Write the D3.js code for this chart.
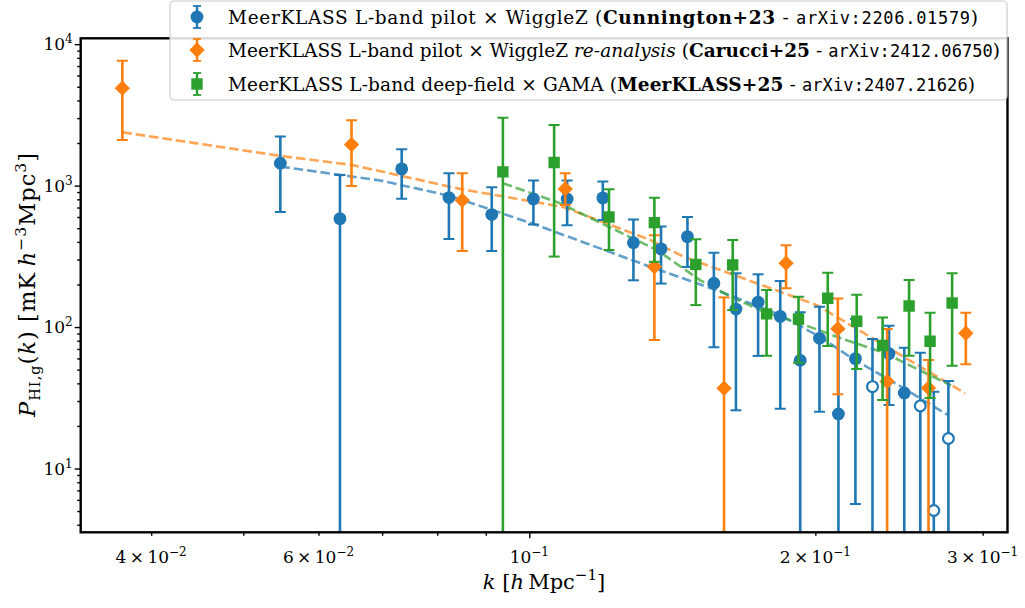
<!DOCTYPE html>
<html>
<head>
<meta charset="utf-8">
<script src="https://cdn.jsdelivr.net/npm/d3@7"></script>
<style>
  body { margin: 0; background: #fff; }
  text { font-family: "DejaVu Serif", serif; fill: #000; }
  .mono { font-family: "DejaVu Sans Mono", monospace; }
</style>
</head>
<body>
<div id="chart"></div>
<script>
// MeerKLASS L-band pilot x WiggleZ (Cunnington+23)
var kBlue  = [0.0547,0.0632,0.0734,0.0823,0.0913,0.1010,0.1096,0.1195,0.1287,0.1376,0.1467,0.1564,0.1650,0.1741,0.1837,0.1928,0.2020,0.2115,0.2204,0.2297,0.2391,0.2481,0.2579,0.2665,0.2761];
var pBlue  = [1440,584,1313,823,624,805,805,819,395,357,436,204,134,150,119,58.2,83.3,24.3,59.8,37.9,64.9,34.2,27.7,5.05,16.3];
var hiBlue = [2221,1190,1809,1224,974,1085,1085,1071,575,513,600,335,240,236,212,127,139,95.4,114,82.4,102,71.5,65.9,34.9,41.6];
var loBlue = [652,0,809,420,345,530,525,572,214,203,266,72.0,25.8,62.5,26.5,0,25.2,0,5.61,0,28.1,0,0,0,0];
var openBlue = [0,0,0,0,0,0,0,0,0,0,0,0,0,0,0,0,0,0,0,1,0,0,1,1,1];

// re-analysis (Carucci+25)
var kOrange  = [0.0373,0.0650,0.0850,0.1091,0.1354,0.1603,0.1863,0.2112,0.2380,0.2631,0.2880];
var pOrange  = [4884,1950,788,948,267,36.9,283,97.4,41.2,37.1,90.4];
var hiOrange = [7618,2901,1224,1224,446,162,379,159,96.9,58.5,126];
var loOrange = [2105,995,345,730,81.0,0,188,33.5,0,0,54.6];

// deep-field x GAMA (MeerKLASS+25)
var kGreen  = [0.0938,0.1062,0.1213,0.1354,0.1497,0.1637,0.1777,0.1920,0.2061,0.2211,0.2354,0.2510,0.2641,0.2786];
var pGreen  = [1250,1455,600,547,277,275,124,114,160,110,74.1,141,79.4,148];
var hiGreen = [3012,2687,943,819,418,413,183,164,242,169,117,215,126,240];
var loGreen = [0,315,351,289,143,132,62.8,56.0,73.5,50.5,30.5,62.8,31.5,53.3];

// model curves (dashed)
var kModelBlue = [0.0547,0.0697,0.0825,0.1010,0.1340,0.1561,0.1835,0.2023,0.2176,0.2474,0.2757];
var pModelBlue = [1363,1087,846,536,267,186,122,85.1,61.4,37.1,23.9];
var kModelOrange = [0.0373,0.0547,0.0650,0.0845,0.1085,0.1340,0.1452,0.2007,0.2875];
var pModelOrange = [2386,1622,1401,948,707,413,315,143,34.0];
var kModelGreen = [0.0938,0.1077,0.1362,0.1512,0.1639,0.1775,0.1922,0.2124,0.2351,0.2779];
var pModelGreen = [1040,751,351,215,161,126,107,83.7,66.7,38.6];

var xMinor = [0.04,0.05,0.06,0.07,0.08,0.09,0.2,0.3];
var xMajor = [0.1];
var xLabels = [[0.04,"4","\u22122"],[0.06,"6","\u22122"],[0.1,null,"\u22121"],[0.2,"2","\u22121"],[0.3,"3","\u22121"]];
var yMajor = [10,100,1000,10000];
var yLabelExp = ["1","2","3","4"];

var W = 1025, H = 608;
var pL = 80.7, pR = 1007.5, pT = 38.3, pB = 532.3;

var svg = d3.select("#chart").append("svg")
    .attr("width", W).attr("height", H);

var x = d3.scaleLog().domain([0.03372, 0.3186]).range([pL, pR]);
var y = d3.scaleLog().domain([3.54, 11000]).range([pB, pT]);

var yMinor = [];
[1,10,100,1000].forEach(function(d){ for (var i=2;i<10;i++){ var v=d*i; if (v>3.54 && v<11000) yMinor.push(v); } });

svg.append("clipPath").attr("id","plotclip")
  .append("rect").attr("x",pL).attr("y",pT).attr("width",pR-pL).attr("height",pB-pT);

// axes ticks
function styleAxis(g){ g.select(".domain").remove(); g.selectAll("line").attr("stroke","#000").attr("stroke-width",1.4); }

svg.append("g").attr("transform","translate(0,"+pB+")")
  .call(d3.axisBottom(x).tickValues(xMajor).tickSize(6).tickFormat("")).call(styleAxis);
svg.append("g").attr("transform","translate(0,"+pB+")")
  .call(d3.axisBottom(x).tickValues(xMinor).tickSize(3.5).tickFormat("")).call(styleAxis);
svg.append("g").attr("transform","translate("+pL+",0)")
  .call(d3.axisLeft(y).tickValues(yMajor).tickSize(6).tickFormat("")).call(styleAxis);
svg.append("g").attr("transform","translate("+pL+",0)")
  .call(d3.axisLeft(y).tickValues(yMinor).tickSize(3.5).tickFormat("")).call(styleAxis);

// tick labels
var tickFs = 17;
xLabels.forEach(function(d){
  var t = svg.append("text").attr("x", x(d[0])).attr("y", pB+31)
    .attr("text-anchor","middle").attr("font-size",tickFs);
  if (d[1]) t.append("tspan").text(d[1]+"\u2009\u00d7\u200910");
  else t.append("tspan").text("10");
  t.append("tspan").attr("dy",-7).attr("font-size",12).text(d[2]);
});
yMajor.forEach(function(v,i){
  var t = svg.append("text").attr("x", pL-8).attr("y", y(v)+6)
    .attr("text-anchor","end").attr("font-size",tickFs);
  t.append("tspan").text("10");
  t.append("tspan").attr("dy",-7).attr("font-size",12).text(yLabelExp[i]);
});

// axis titles
var xt = svg.append("text").attr("x",544).attr("y",589).attr("text-anchor","middle").attr("font-size",21);
xt.append("tspan").attr("font-style","italic").text("k");
xt.append("tspan").text(" [");
xt.append("tspan").attr("font-style","italic").text("h");
xt.append("tspan").text("\u2009Mpc");
xt.append("tspan").attr("dy",-9).attr("font-size",15).text("\u22121");
xt.append("tspan").attr("dy",9).text("]");

var yt = svg.append("text").attr("transform","translate(35,285) rotate(-90)")
  .attr("text-anchor","middle").attr("font-size",22.5)
  .attr("textLength",264).attr("lengthAdjust","spacing");
yt.append("tspan").attr("font-style","italic").text("P");
yt.append("tspan").attr("dy",5).attr("font-size",14.5).text("HI,g");
yt.append("tspan").attr("dy",-5).text("(");
yt.append("tspan").attr("font-style","italic").text("k");
yt.append("tspan").text(") [mK\u2009");
yt.append("tspan").attr("font-style","italic").text("h");
yt.append("tspan").attr("dy",-9).attr("font-size",15.5).text("\u22123");
yt.append("tspan").attr("dy",9).text("Mpc");
yt.append("tspan").attr("dy",-9).attr("font-size",15.5).text("3");
yt.append("tspan").attr("dy",9).text("]");

// plot contents
var plot = svg.append("g").attr("clip-path","url(#plotclip)");

var line = d3.line().x(function(d){return x(d[0]);}).y(function(d){return y(d[1]);});
var models = [
  {k:kModelBlue, p:pModelBlue, color:"#1f77b4"},
  {k:kModelOrange, p:pModelOrange, color:"#ff7f0e"},
  {k:kModelGreen, p:pModelGreen, color:"#2ca02c"}
];
models.forEach(function(m){
  plot.append("path").datum(d3.zip(m.k, m.p)).attr("d", line)
    .attr("fill","none").attr("stroke", m.color).attr("stroke-width",2.6)
    .attr("stroke-dasharray","9.5,4").attr("opacity",0.7);
});

var series = [
  {k:kBlue, p:pBlue, hi:hiBlue, lo:loBlue, open:openBlue, color:"#1f77b4", marker:"circle"},
  {k:kOrange, p:pOrange, hi:hiOrange, lo:loOrange, color:"#ff7f0e", marker:"diamond"},
  {k:kGreen, p:pGreen, hi:hiGreen, lo:loGreen, color:"#2ca02c", marker:"square"}
];

function drawMarker(g, type, cx, cy, color, open){
  if (type === "circle") {
    g.append("circle").attr("cx",cx).attr("cy",cy).attr("r", open ? 5.4 : 6.4)
      .attr("fill", open ? "#fff" : color).attr("stroke", color).attr("stroke-width", open ? 2.2 : 0);
  } else if (type === "diamond") {
    g.append("path").attr("d", d3.symbol().type(d3.symbolSquare).size(118)())
      .attr("transform","translate("+cx+","+cy+") rotate(45)").attr("fill",color);
  } else {
    g.append("path").attr("d", d3.symbol().type(d3.symbolSquare).size(130)())
      .attr("transform","translate("+cx+","+cy+")").attr("fill",color);
  }
}

series.forEach(function(s){
  var g = plot.append("g");
  s.k.forEach(function(k,i){
    var cx = x(k);
    var yTop = y(s.hi[i]);
    var yBot = s.lo[i] > 0 ? y(s.lo[i]) : pB + 20;
    g.append("line").attr("x1",cx).attr("x2",cx).attr("y1",yTop).attr("y2",yBot)
      .attr("stroke",s.color).attr("stroke-width",2.6);
    g.append("line").attr("x1",cx-5.5).attr("x2",cx+5.5).attr("y1",yTop).attr("y2",yTop)
      .attr("stroke",s.color).attr("stroke-width",2);
    if (s.lo[i] > 0)
      g.append("line").attr("x1",cx-5.5).attr("x2",cx+5.5).attr("y1",yBot).attr("y2",yBot)
        .attr("stroke",s.color).attr("stroke-width",2);
  });
  s.k.forEach(function(k,i){
    drawMarker(g, s.marker, x(k), y(s.p[i]), s.color, s.open && s.open[i]);
  });
});

// frame
svg.append("rect").attr("x",pL).attr("y",pT).attr("width",pR-pL).attr("height",pB-pT)
  .attr("fill","none").attr("stroke","#000").attr("stroke-width",2.4);

// legend
var legend = svg.append("g");
legend.append("rect").attr("x",170).attr("y",1).attr("width",837).attr("height",99).attr("rx",4)
  .attr("fill","#fff").attr("fill-opacity",0.85).attr("stroke","#ccc").attr("stroke-width",1.2);

var legendRows = [
  {color:"#1f77b4", marker:"circle", width:750, parts:[["MeerKLASS L-band pilot \u00d7 WiggleZ (",""],["Cunnington+23","b"],[" - ",""],["arXiv:2206.01579","m"],[")",""]]},
  {color:"#ff7f0e", marker:"diamond", width:772, parts:[["MeerKLASS L-band pilot \u00d7 WiggleZ ",""],["re-analysis","i"],[" (",""],["Carucci+25","b"],[" - ",""],["arXiv:2412.06750","m"],[")",""]]},
  {color:"#2ca02c", marker:"square", width:747, parts:[["MeerKLASS L-band deep-field \u00d7 GAMA (",""],["MeerKLASS+25","b"],[" - ",""],["arXiv:2407.21626","m"],[")",""]]}
];
var rowY = [17, 50, 84];
legendRows.forEach(function(r,i){
  var cy = rowY[i];
  legend.append("line").attr("x1",197).attr("x2",197).attr("y1",cy-11).attr("y2",cy+11)
    .attr("stroke",r.color).attr("stroke-width",2.4);
  [cy-11, cy+11].forEach(function(yy){
    legend.append("line").attr("x1",193).attr("x2",201).attr("y1",yy).attr("y2",yy)
      .attr("stroke",r.color).attr("stroke-width",1.8);
  });
  drawMarker(legend, r.marker, 197, cy, r.color, false);
  var t = legend.append("text").attr("x",228).attr("y",cy+6.5).attr("font-size",18.5)
    .attr("textLength", r.width).attr("lengthAdjust","spacing");
  r.parts.forEach(function(p){
    var ts = t.append("tspan").text(p[0]);
    if (p[1]==="b") ts.attr("font-weight","bold");
    if (p[1]==="i") ts.attr("font-style","italic");
    if (p[1]==="m") ts.attr("class","mono").attr("font-size",17);
  });
});
</script>
</body>
</html>
